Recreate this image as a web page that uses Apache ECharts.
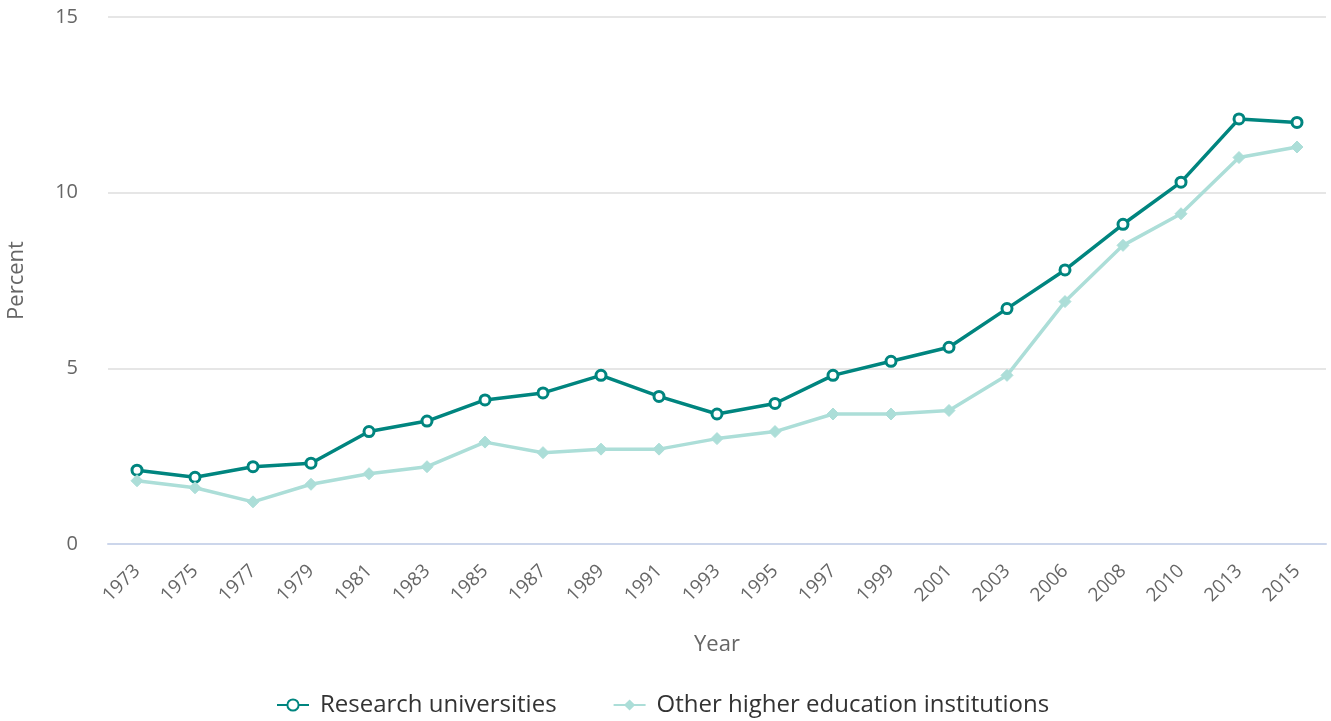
<!DOCTYPE html>
<html><head><meta charset="utf-8">
<script src="https://cdn.jsdelivr.net/npm/echarts@6/dist/echarts.min.js"></script>
<style>html,body{margin:0;padding:0;background:#fff}#c{width:1331px;height:721px}</style>
</head><body><div id="c"></div>
<script>
const years = ["1973","1975","1977","1979","1981","1983","1985","1987","1989","1991","1993","1995","1997","1999","2001","2003","2006","2008","2010","2013","2015"];
const research = [2.1,1.9,2.2,2.3,3.2,3.5,4.1,4.3,4.8,4.2,3.7,4.0,4.8,5.2,5.6,6.7,7.8,9.1,10.3,12.1,12.0];
const other = [1.8,1.6,1.2,1.7,2.0,2.2,2.9,2.6,2.7,2.7,3.0,3.2,3.7,3.7,3.8,4.8,6.9,8.5,9.4,11.0,11.3];
const yTicks = [0,5,10,15];

const font = '"Open Sans", sans-serif';
const chart = echarts.init(document.getElementById('c'));
chart.setOption({
  animation:false,
  grid:{left:108,right:5,top:17,bottom:177,containLabel:false,outerBoundsMode:'none'},
  legend:{
    bottom:4,left:276,padding:0,itemGap:56,itemWidth:32,itemHeight:14,
    textStyle:{fontFamily:font,fontSize:24,color:'#333',padding:[0,0,0,6]},
    data:['Research universities','Other higher education institutions']
  },
  xAxis:{
    type:'category',data:years,boundaryGap:true,
    name:'Year',nameLocation:'middle',nameGap:90,
    nameTextStyle:{fontFamily:font,fontSize:22,color:'#666'},
    axisLine:{lineStyle:{color:'#ccd6eb',width:2}},
    axisTick:{alignWithLabel:true,length:18,lineStyle:{color:'#ccd6eb',width:2}},
    axisLabel:{rotate:45,fontFamily:font,fontSize:19,color:'#666',margin:24,interval:0}
  },
  yAxis:{
    type:'value',min:yTicks[0],max:yTicks[yTicks.length-1],interval:5,
    name:'Percent',nameLocation:'middle',nameGap:80,
    nameTextStyle:{fontFamily:font,fontSize:22,color:'#666'},
    axisLine:{show:false},axisTick:{show:false},
    axisLabel:{fontFamily:font,fontSize:20,color:'#666',margin:30},
    splitLine:{lineStyle:{color:'#e6e6e6',width:2}}
  },
  series:[
    {name:'Research universities',type:'line',data:research,
     symbol:'circle',symbolSize:10,
     lineStyle:{color:'#00857f',width:3.5},
     itemStyle:{color:'#fff',borderColor:'#00857f',borderWidth:3}},
    {name:'Other higher education institutions',type:'line',data:other,
     symbol:'diamond',symbolSize:12,
     lineStyle:{color:'#acded8',width:3.5},
     itemStyle:{color:'#acded8',borderColor:'#acded8'}}
  ]
});
</script></body></html>
